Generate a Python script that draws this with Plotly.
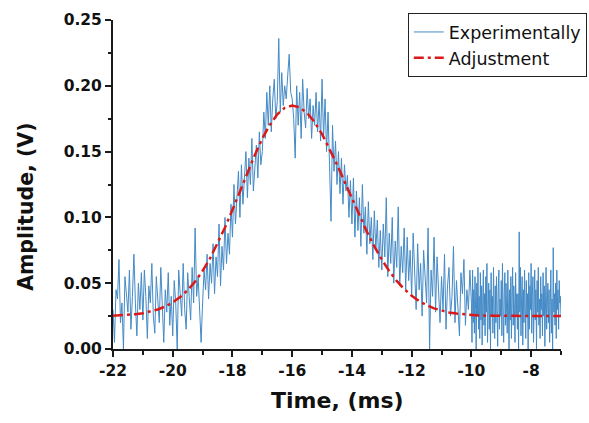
import numpy as np
import plotly.graph_objects as go

# Experimental trace, part 1: -22.00 ms .. -10.05 ms, step 0.05 ms (values in mV)
exp1_start, exp1_step = -22.0, 0.05
exp1_mv = [
    30, 5, 45, 38, 68, 20, 35, 0, 55, 42, 28, 60, 15, 40, 72, 35, 10, 50, 30, 58,
    22, 60, 40, 8, 48, 35, 65, 25, 12, 55, 38, 20, 62, 30, 5, 45, 28, 58, 18, 40,
    10, 52, 35, 0, 60, 42, 25, 65, 30, 15, 58, 40, 22, 62, 35, 92, 40, 55, 30, 5,
    35, 60, 45, 72, 38, 65, 50, 80, 42, 70, 55, 95, 48, 78, 60, 100, 65, 88, 72, 110,
    85, 125, 95, 118, 135, 100, 140, 110, 128, 150, 115, 145, 125, 160, 120, 138, 155, 130, 165, 140,
    150, 180, 160, 195, 170, 200, 165, 190, 205, 175, 188, 236, 180, 210, 185, 200, 190, 208, 224, 195,
    190, 175, 145, 200, 170, 195, 160, 205, 180, 168, 198, 175, 190, 160, 185, 170, 195, 165, 188, 158,
    205, 160, 190, 150, 180, 140, 97, 170, 135, 158, 125, 150, 118, 145, 110, 140, 120, 132, 100, 128,
    95, 130, 85, 120, 90, 115, 78, 125, 88, 108, 72, 112, 80, 100, 68, 105, 75, 98, 62, 90,
    60, 95, 70, 115, 55, 88, 65, 100, 50, 82, 62, 108, 48, 78, 58, 92, 45, 85, 52, 75,
    40, 88, 55, 30, 80, 45, 65, 25, 75, 50, 35, 92, 0, 60, 40, 85, 28, 70, 45, 20,
    55, 30, 72, 15, 48, 62, 25, 40, 78, 20, 52, 35, 10, 58, 42, 68, 18, 45, 30, 60,
]

# Experimental trace, part 2: -10.00 ms .. -7.00 ms, step 0.02 ms (values in mV)
exp2_start, exp2_step = -10.0, 0.02
exp2_mv = [
    35, 5, 60, 20, 45, 12, 55, 30, 0, 50, 25, 62, 15, 40, 8, 58, 22, 48, 3, 38,
    60, 18, 42, 10, 55, 28, 65, 5, 35, 50, 15, 45, 0, 58, 25, 40, 12, 62, 30, 8,
    48, 20, 55, 35, 2, 45, 60, 15, 38, 25, 52, 10, 65, 30, 5, 42, 58, 18, 50, 28,
    12, 60, 35, 0, 45, 22, 55, 8, 40, 62, 18, 48, 30, 5, 58, 25, 42, 15, 42, 0,
    89, 28, 62, 10, 38, 55, 3, 45, 20, 60, 32, 8, 52, 25, 42, 0, 58, 15, 48, 30,
    65, 12, 40, 55, 5, 35, 60, 22, 45, 0, 52, 28, 62, 18, 38, 8, 55, 30, 42, 10,
    58, 25, 48, 2, 40, 62, 15, 35, 50, 20, 45, 5, 55, 60, 12, 38, 0, 77, 28, 42,
    18, 50, 8, 60, 30, 45, 15, 52, 35, 40, 25,
]

# Fitted curve ("Adjustment"), -22 .. -7 ms, step 0.25 ms (values in V)
fit_start, fit_step = -22.0, 0.25
fit_v = [
    0.0253, 0.0256, 0.0259, 0.0264, 0.0272, 0.0284, 0.0300, 0.0323, 0.0354, 0.0395,
    0.0447, 0.0513, 0.0594, 0.0689, 0.0800, 0.0923, 0.1058, 0.1198, 0.1339, 0.1475,
    0.1599, 0.1703, 0.1783, 0.1833, 0.1850,
    0.1836, 0.1793, 0.1724, 0.1633, 0.1523, 0.1402, 0.1273, 0.1142, 0.1014, 0.0892,
    0.0780, 0.0680, 0.0592, 0.0517, 0.0455, 0.0405, 0.0364, 0.0333, 0.0309, 0.0291,
    0.0278, 0.0269, 0.0263, 0.0258,
    0.0255, 0.0253, 0.0252, 0.0251, 0.0251, 0.0250, 0.0250, 0.0250, 0.0250, 0.0250,
    0.0250, 0.0250,
]

x_tick_vals = [-22, -20, -18, -16, -14, -12, -10, -8]
y_tick_vals = [0.00, 0.05, 0.10, 0.15, 0.20, 0.25]

t_exp = np.concatenate([
    exp1_start + exp1_step * np.arange(len(exp1_mv)),
    exp2_start + exp2_step * np.arange(len(exp2_mv)),
])
y_exp = np.array(exp1_mv + exp2_mv) / 1000.0
t_fit = fit_start + fit_step * np.arange(len(fit_v))

fig = go.Figure()
fig.add_trace(go.Scatter(
    x=t_exp, y=y_exp, mode="lines", name="Experimentally",
    line=dict(color="rgb(68,138,198)", width=1),
))
fig.add_trace(go.Scatter(
    x=t_fit, y=fit_v, mode="lines", name="Adjustment",
    line=dict(color="rgb(220,25,25)", width=2.5, dash="10px,4px,3px,4px"),
))

axis_common = dict(
    showline=True, linecolor="#1a1a1a", linewidth=2, mirror=False,
    showgrid=False, zeroline=False, ticks="outside", ticklen=6, tickwidth=1.5,
    tickcolor="#1a1a1a",
    tickfont=dict(family="DejaVu Sans", size=15.5, color="#111", weight="bold"),
)

fig.update_xaxes(
    range=[-22, -7], tickvals=x_tick_vals, ticktext=[str(v) for v in x_tick_vals],
    minor=dict(dtick=1, tick0=-22, ticks="outside", ticklen=3.5, tickwidth=1.5, tickcolor="#1a1a1a"),
    **axis_common,
)
fig.update_yaxes(
    range=[0, 0.25], tickvals=y_tick_vals, ticktext=[f"{v:.2f}" for v in y_tick_vals],
    minor=dict(dtick=0.025, tick0=0, ticks="outside", ticklen=3.5, tickwidth=1.5, tickcolor="#1a1a1a"),
    **axis_common,
)

fig.update_layout(
    width=589, height=423,
    margin=dict(l=113, r=28, t=20, b=74, autoexpand=False),
    paper_bgcolor="white", plot_bgcolor="white",
    font=dict(family="DejaVu Sans", color="#111"),
    showlegend=True,
    legend=dict(
        x=0.658, y=1.021, xanchor="left", yanchor="top",
        bordercolor="#222", borderwidth=1, bgcolor="rgba(255,255,255,0)",
        font=dict(family="DejaVu Sans", size=17.5, color="#111"),
        tracegroupgap=0, itemwidth=30,
    ),
    annotations=[
        dict(text="<b>Time, (ms)</b>", xref="paper", yref="paper", x=0.5, y=0,
             yshift=-51, showarrow=False, xanchor="center", yanchor="middle",
             font=dict(family="DejaVu Sans", size=22, color="#111")),
        dict(text="<b>Amplitude, (V)</b>", xref="paper", yref="paper", x=0, y=0.432,
             xshift=-87, showarrow=False, xanchor="center", yanchor="middle",
             textangle=-90,
             font=dict(family="DejaVu Sans", size=20.5, color="#111")),
    ],
)

fig.write_html("out.html", config={"displayModeBar": False},
               post_script="document.body.style.margin='0';")
